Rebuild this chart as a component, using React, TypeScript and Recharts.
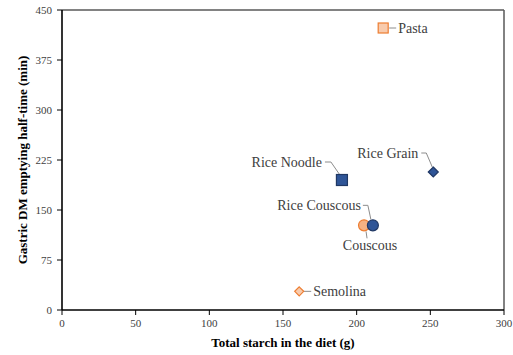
import { Label, ReferenceLine, Scatter, ScatterChart, XAxis, YAxis } from "recharts";

const foods = ["Pasta", "Rice Noodle", "Rice Grain", "Couscous", "Rice Couscous", "Semolina"];
const starch = [218, 190, 252, 205, 211, 161];
const halfTime = [423, 195, 207, 127, 127, 28];

const xTicks = [0, 50, 100, 150, 200, 250, 300];
const yTicks = [0, 75, 150, 225, 300, 375, 450];

const orange = "#ed7d31";
const orangeFill = "#f8cbad";
const blue = "#2f5597";
const blueEdge = "#203864";
const textColor = "#404040";
const font = "Liberation Serif, serif";

type Marker = { kind: "square" | "circle" | "diamond"; fill: string; stroke: string; r: number };

const markers: Record<string, Marker> = {
  Pasta: { kind: "square", fill: orangeFill, stroke: orange, r: 5 },
  "Rice Noodle": { kind: "square", fill: blue, stroke: blueEdge, r: 5.5 },
  "Rice Grain": { kind: "diamond", fill: blue, stroke: blueEdge, r: 5 },
  Couscous: { kind: "circle", fill: "#f4b183", stroke: orange, r: 5.5 },
  "Rice Couscous": { kind: "circle", fill: blue, stroke: blueEdge, r: 5.5 },
  Semolina: { kind: "diamond", fill: orangeFill, stroke: orange, r: 4.5 },
};

// label offset from the point, plus the leader line (relative to the point)
type LabelPos = { dx: number; dy: number; anchor: "start" | "middle" | "end"; leader: number[][] };

const labelPos: Record<string, LabelPos> = {
  Pasta: { dx: 15, dy: 0, anchor: "start", leader: [[6, 0], [13, 0]] },
  "Rice Noodle": { dx: -20, dy: -18, anchor: "end", leader: [[-17, -18], [-11, -18], [-2, -5]] },
  "Rice Grain": { dx: -15, dy: -19, anchor: "end", leader: [[-12, -19], [-7, -19], [-1, -5]] },
  Couscous: { dx: 6, dy: 20, anchor: "middle", leader: [[2, 6], [3, 13]] },
  "Rice Couscous": { dx: -12, dy: -20, anchor: "end", leader: [[-10, -20], [-5, -20], [-2, -6]] },
  Semolina: { dx: 14, dy: 0, anchor: "start", leader: [[4, 0], [12, 0]] },
};

function FoodPoint(props: any) {
  const { cx, cy, payload } = props;
  const m = markers[payload.name];
  const l = labelPos[payload.name];
  let mark;
  if (m.kind === "square") {
    mark = <rect x={cx - m.r} y={cy - m.r} width={m.r * 2} height={m.r * 2} fill={m.fill} stroke={m.stroke} strokeWidth={1.2} />;
  } else if (m.kind === "circle") {
    mark = <circle cx={cx} cy={cy} r={m.r} fill={m.fill} stroke={m.stroke} strokeWidth={1.2} />;
  } else {
    const pts = `${cx},${cy - m.r} ${cx + m.r},${cy} ${cx},${cy + m.r} ${cx - m.r},${cy}`;
    mark = <polygon points={pts} fill={m.fill} stroke={m.stroke} strokeWidth={1.2} />;
  }
  return (
    <g>
      <polyline
        points={l.leader.map(([x, y]) => `${cx + x},${cy + y}`).join(" ")}
        fill="none"
        stroke="#8c8c8c"
        strokeWidth={1}
      />
      {mark}
      <text
        x={cx + l.dx}
        y={cy + l.dy}
        textAnchor={l.anchor}
        dominantBaseline="central"
        style={{ fontFamily: font, fontSize: 14, fill: textColor }}
      >
        {payload.name}
      </text>
    </g>
  );
}

export default function App() {
  const tick = { fill: textColor, fontSize: 11, fontFamily: font, style: { fontFamily: font } };
  return (
    <div style={{ position: "absolute", left: 0, top: 0, background: "#fff", fontFamily: font }}>
      <ScatterChart width={513} height={355} margin={{ top: 10, right: 9, bottom: 0, left: 0 }}>
        <XAxis
          type="number"
          dataKey="x"
          domain={[0, 300]}
          ticks={xTicks}
          height={45}
          tick={tick}
          tickSize={5}
          tickMargin={4}
          axisLine={{ stroke: "#000", strokeWidth: 1.6 }}
          tickLine={{ stroke: "#000" }}
          interval={0}
        >
          <Label
            value="Total starch in the diet (g)"
            position="insideBottom"
            offset={8}
            style={{ fontFamily: font, fontWeight: "bold", fontSize: 13, fill: "#000" }}
          />
        </XAxis>
        <YAxis
          type="number"
          dataKey="y"
          domain={[0, 450]}
          ticks={yTicks}
          width={62}
          tick={tick}
          tickSize={5}
          tickMargin={5}
          axisLine={{ stroke: "#000", strokeWidth: 1.6 }}
          tickLine={{ stroke: "#000" }}
          interval={0}
        >
          <Label
            value="Gastric DM emptying half-time (min)"
            angle={-90}
            position="insideLeft"
            offset={22}
            style={{ fontFamily: font, fontWeight: "bold", fontSize: 13, fill: "#000", textAnchor: "middle" }}
          />
        </YAxis>
        <ReferenceLine y={450} stroke="#595959" strokeWidth={1.5} />
        <ReferenceLine x={300} stroke="#595959" strokeWidth={1.5} />
        {foods.map((name, i) => (
          <Scatter
            key={name}
            name={name}
            data={[{ x: starch[i], y: halfTime[i], name }]}
            shape={FoodPoint}
            isAnimationActive={false}
          />
        ))}
      </ScatterChart>
    </div>
  );
}
